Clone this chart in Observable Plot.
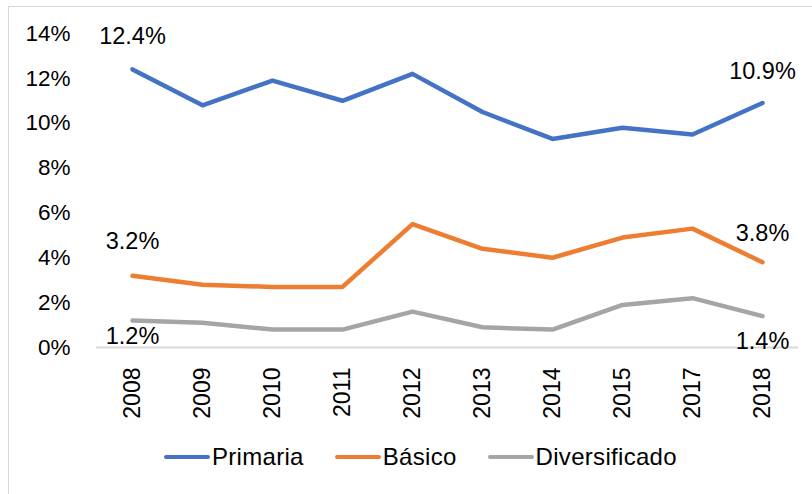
<!DOCTYPE html>
<html>
<head>
<meta charset="utf-8">
<script src="https://cdn.jsdelivr.net/npm/d3@7"></script>
<script src="https://cdn.jsdelivr.net/npm/@observablehq/plot@0.6"></script>
<style>
  html, body { margin: 0; padding: 0; background: #fff; }
  #wrap { position: relative; width: 812px; height: 494px; overflow: hidden; font-family: "Liberation Sans", Arial, sans-serif; }
  #frame { position: absolute; left: 8px; top: 6px; width: 900px; height: 600px; border: 1.5px solid #d9d9d9; box-sizing: border-box; }
  #chart { position: absolute; left: 0; top: 0; }
  #legend { position: absolute; left: 164px; top: 441px; height: 32px; display: flex; align-items: center; font-size: 24px; letter-spacing: 0.3px; color: #000; }
  .item { display: flex; align-items: center; margin-right: 31px; }
  .sw { width: 46px; height: 4.5px; margin-right: 2px; border-radius: 2px; }
</style>
</head>
<body>
<div id="wrap">
  <div id="frame"></div>
  <div id="chart"></div>
  <div id="legend"></div>
</div>
<script>
const years = ["2008","2009","2010","2011","2012","2013","2014","2015","2017","2018"];
const primaria = [12.4, 10.8, 11.9, 11.0, 12.2, 10.5, 9.3, 9.8, 9.5, 10.9];
const basico = [3.2, 2.8, 2.7, 2.7, 5.5, 4.4, 4.0, 4.9, 5.3, 3.8];
const diversificado = [1.2, 1.1, 0.8, 0.8, 1.6, 0.9, 0.8, 1.9, 2.2, 1.4];
const seriesNames = ["Primaria", "Básico", "Diversificado"];
const seriesColors = ["#4472C4", "#ED7D31", "#A5A5A5"];
const yTicks = [0, 2, 4, 6, 8, 10, 12, 14];

const seriesValues = [primaria, basico, diversificado];
const rows = [];
seriesNames.forEach((name, s) => {
  years.forEach((yr, i) => rows.push({serie: name, year: yr, value: seriesValues[s][i], idx: i}));
});
const last = years.length - 1;
const fmt = d => d.value.toFixed(1) + "%";
const pick = (name, i) => rows.filter(r => r.serie === name && r.idx === i);
const lblFont = 23.5;

const chart = Plot.plot({
  width: 812,
  height: 420,
  marginLeft: 96,
  marginRight: 14,
  marginTop: 33,
  marginBottom: 73,
  style: {fontFamily: "Liberation Sans, Arial, sans-serif", fontSize: "22px", color: "#000", background: "transparent", overflow: "visible"},
  x: {type: "point", domain: years, padding: 0.5, align: 0.5},
  y: {domain: [0, 14]},
  color: {domain: seriesNames, range: seriesColors},
  marks: [
    Plot.ruleY([0], {stroke: "#d9d9d9", strokeWidth: 2}),
    Plot.axisY({ticks: yTicks, tickSize: 0, tickPadding: 26, tickFormat: d => d + "%", label: null, fontSize: 22.5}),
    Plot.axisX({tickSize: 0, tickPadding: 20, tickRotate: -90, label: null, fontSize: 23}),
    Plot.line(rows, {x: "year", y: "value", z: "serie", stroke: "serie", strokeWidth: 4.5, strokeLinejoin: "round", strokeLinecap: "round"}),
    Plot.text(pick("Primaria", 0), {x: "year", y: "value", text: fmt, dy: -33, fontSize: lblFont, fill: "#000"}),
    Plot.text(pick("Primaria", last), {x: "year", y: "value", text: fmt, dy: -32, fontSize: lblFont, fill: "#000"}),
    Plot.text(pick("Básico", 0), {x: "year", y: "value", text: fmt, dy: -34, fontSize: lblFont, fill: "#000"}),
    Plot.text(pick("Básico", last), {x: "year", y: "value", text: fmt, dy: -29, fontSize: lblFont, fill: "#000"}),
    Plot.text(pick("Diversificado", 0), {x: "year", y: "value", text: fmt, dy: 16, fontSize: lblFont, fill: "#000"}),
    Plot.text(pick("Diversificado", last), {x: "year", y: "value", text: fmt, dy: 25, fontSize: lblFont, fill: "#000"})
  ]
});
document.getElementById("chart").appendChild(chart);

const legend = document.getElementById("legend");
seriesNames.forEach((name, i) => {
  const it = document.createElement("div");
  it.className = "item";
  const sw = document.createElement("div");
  sw.className = "sw";
  sw.style.background = seriesColors[i];
  const lb = document.createElement("span");
  lb.textContent = name;
  it.appendChild(sw); it.appendChild(lb);
  legend.appendChild(it);
});
</script>
</body>
</html>
